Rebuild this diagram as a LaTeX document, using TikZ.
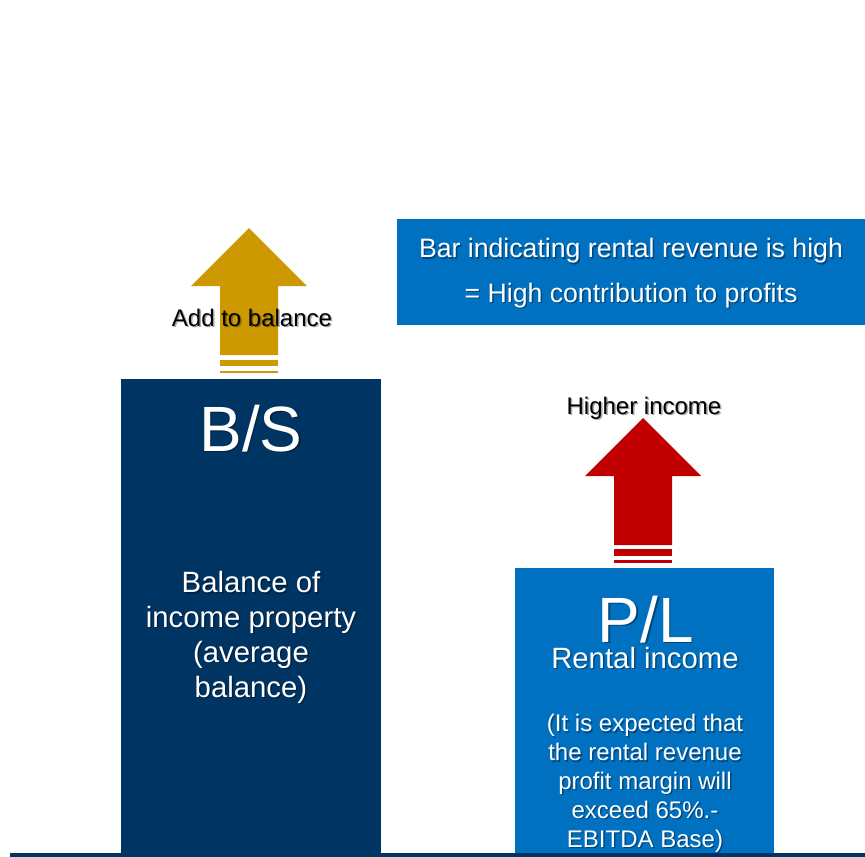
\documentclass[tikz,border=0pt]{standalone}
\usepackage{fontspec}
\setmainfont{Liberation Sans}
\definecolor{navy}{HTML}{003463}
\definecolor{blu}{HTML}{0070C0}
\definecolor{gold}{HTML}{CC9900}
\definecolor{redd}{HTML}{C00000}
\newcommand{\stxt}[5]{%
  \node[#1, shadowtext] at (#3+1.5,#4+1.5) {#5};
  \node[#1] (#2) at (#3,#4) {#5};
}
\begin{document}
\begin{tikzpicture}[x=0.75pt,y=-0.75pt,
  every node/.style={inner sep=0pt, outer sep=0pt, anchor=base, align=center},
  shadowtext/.style={text=black, text opacity=0.35},
  blacklbl/.style={font=\fontsize{18}{21}\selectfont, text=black},
  headbig/.style={font=\fontsize{48}{56}\selectfont, text=white},
  midtxt/.style={font=\fontsize{22}{26.1}\selectfont, text=white},
  smalltxt/.style={font=\fontsize{18}{21.6}\selectfont, text=white},
  toptxt/.style={font=\fontsize{20}{33.2}\selectfont, text=white}]
\useasboundingbox (0,0) rectangle (865,857);
\fill[white] (0,0) rectangle (865,857);
% boxes
\fill[blu] (397,219) rectangle (865,325);
\fill[navy] (121,379) rectangle (381,857);
\fill[blu] (515,568) rectangle (774,857);
\fill[navy] (10,852.5) rectangle (865,857);
% gold arrow
\fill[gold] (220,355) -- (220,286) -- (191,286) -- (249,228) -- (307,286) -- (278,286) -- (278,355) -- cycle;
\fill[gold] (220,360) rectangle (278,366);
\fill[gold] (220,370.7) rectangle (278,373.3);
% red arrow
\fill[redd] (614,545) -- (614,476) -- (585,476) -- (643,418) -- (701,476) -- (672,476) -- (672,545) -- cycle;
\fill[redd] (614,549) rectangle (672,556);
\fill[redd] (614,560) rectangle (672,563);
% texts (multi-line nodes: base anchor is the last line's baseline)
\stxt{blacklbl}{addbal}{252}{326}{Add to balance}
\stxt{blacklbl}{higher}{644}{414}{Higher income}
\stxt{toptxt}{topbox}{631}{302}{Bar indicating rental revenue is high\\= High contribution to profits}
\stxt{headbig}{bs}{251}{451}{B/S}
\stxt{midtxt}{balance}{251}{697}{Balance of\\income property\\(average\\balance)}
\stxt{headbig}{pl}{646}{642}{P/L}
\stxt{midtxt}{rental}{645}{668}{Rental income}
\stxt{smalltxt}{paren}{645}{847}{(It is expected that\\the rental revenue\\profit margin will\\exceed 65\%.-\\EBITDA Base)}
\end{tikzpicture}
\end{document}
